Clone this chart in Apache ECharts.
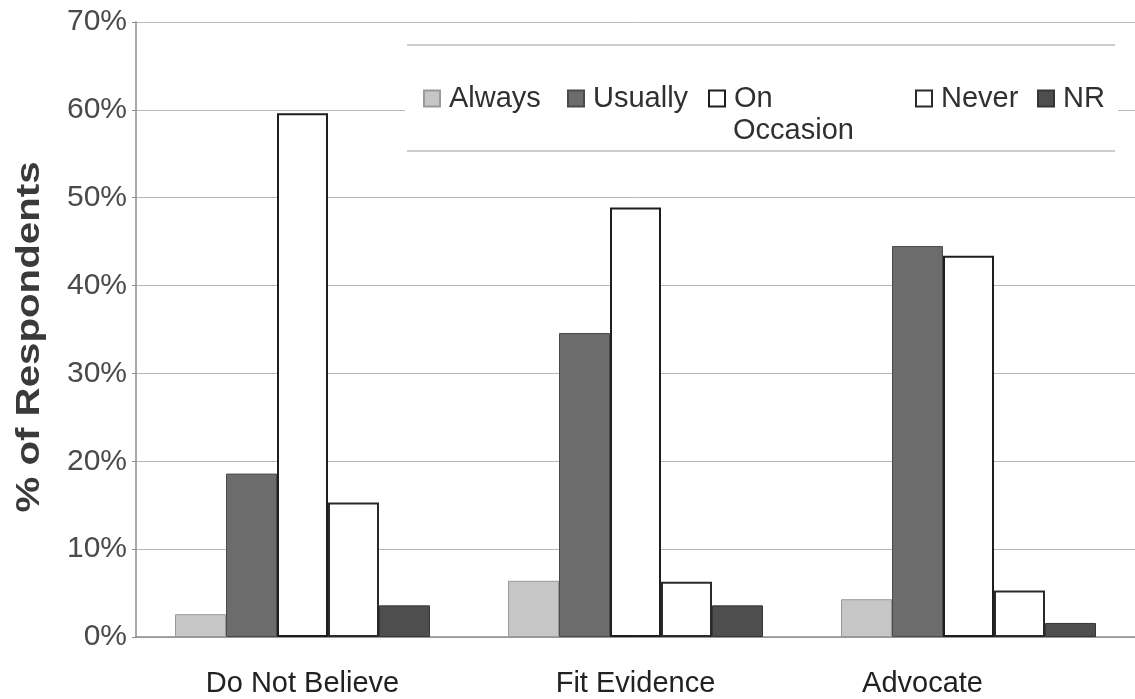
<!DOCTYPE html>
<html>
<head>
<meta charset="utf-8">
<script src="https://cdn.jsdelivr.net/npm/echarts@6/dist/echarts.min.js"></script>
<style>
  html, body { margin: 0; padding: 0; background: #ffffff; }
  #chart { width: 1135px; height: 699px; }
</style>
</head>
<body>
<div id="chart"></div>
<script>
// Survey responses by stance, percent of respondents
const categories = ['Do Not Believe', 'Fit Evidence', 'Advocate'];
const seriesNames = ['Always', 'Usually', 'On Occasion', 'Never', 'NR'];
const always     = [2.6, 6.4, 4.3];
const usually    = [18.6, 34.6, 44.5];
const onOccasion = [59.6, 48.9, 43.4];
const never      = [15.3, 6.3, 5.3];
const noResponse = [3.6, 3.6, 1.6];
const yTicks = [0, 10, 20, 30, 40, 50, 60, 70];
const yTitle = '% of Respondents';

const FONT = '"Liberation Sans", Arial, Helvetica, sans-serif';

const styles = [
  { color: '#c6c6c6', borderColor: '#9a9a9a', borderWidth: 1 },
  { color: '#6c6c6c', borderColor: '#4a4a4a', borderWidth: 1 },
  { color: '#ffffff', borderColor: '#1e1e1e', borderWidth: 2 },
  { color: '#ffffff', borderColor: '#2a2a2a', borderWidth: 2 },
  { color: '#4e4e4e', borderColor: '#363636', borderWidth: 1 }
];
const values = [always, usually, onOccasion, never, noResponse];

const series = seriesNames.map((name, i) => ({
  name: name,
  type: 'bar',
  data: values[i],
  barWidth: 51,
  barGap: '0%',
  itemStyle: styles[i],
  emphasis: { disabled: true }
}));

// one legend block per entry so each sits at its own spot
const legendLefts = [423, 567, 708, 915, 1037];
const legendLabels = ['Always', 'Usually', 'On', 'Never', 'NR'];
const legends = seriesNames.map((name, i) => ({
  data: [name],
  left: legendLefts[i],
  top: 84,
  padding: 0,
  orient: 'horizontal',
  icon: 'rect',
  itemWidth: 16,
  itemHeight: 16,
  selectedMode: false,
  z: 10,
  formatter: () => legendLabels[i],
  textStyle: {
    fontFamily: FONT,
    fontSize: 29,
    color: '#303030',
    padding: [0, 0, 0, 4]
  }
}));

const chart = echarts.init(document.getElementById('chart'), null, { renderer: 'canvas' });
chart.setOption({
  backgroundColor: '#ffffff',
  animation: false,
  grid: { left: 136, right: 0, top: 22, bottom: 62, containLabel: false, outerBoundsMode: 'none' },
  legend: legends,
  xAxis: {
    type: 'category',
    data: [
      categories[0],
      categories[1],
      { value: categories[2], textStyle: { padding: [0, 92, 0, 0] } }
    ],
    axisLine: { lineStyle: { color: '#8c8c8c', width: 1.5 } },
    axisTick: { show: false },
    axisLabel: {
      fontFamily: FONT,
      fontSize: 29,
      color: '#222222',
      margin: 32
    }
  },
  yAxis: {
    type: 'value',
    min: yTicks[0],
    max: yTicks[yTicks.length - 1],
    interval: 10,
    axisLine: { show: true, lineStyle: { color: '#8c8c8c', width: 1.5 } },
    axisTick: { show: true, length: 4, lineStyle: { color: '#8c8c8c' } },
    axisLabel: {
      fontFamily: FONT,
      fontSize: 30,
      color: '#4a4a4a',
      margin: 9,
      formatter: '{value}%'
    },
    splitLine: { show: true, lineStyle: { color: '#b8b8b8', width: 1 } }
  },
  graphic: [
    // legend panel: white fill with rules above and below
    { type: 'rect', left: 405, top: 45, z: 5,
      shape: { width: 713, height: 106 },
      style: { fill: '#ffffff' } },
    { type: 'line', z: 6,
      shape: { x1: 407, y1: 45, x2: 1115, y2: 45 },
      style: { stroke: '#9a9a9a', lineWidth: 1 } },
    { type: 'line', z: 6,
      shape: { x1: 407, y1: 151, x2: 1115, y2: 151 },
      style: { stroke: '#9a9a9a', lineWidth: 1 } },
    // second line of the "On Occasion" legend entry
    { type: 'text', left: 733, top: 116, z: 10,
      style: { text: 'Occasion', font: '29px ' + FONT, fill: '#303030' } },
    // vertical axis title
    { type: 'text', x: 30, y: 337, rotation: Math.PI / 2, scaleX: 1.22, z: 10,
      style: { text: yTitle, font: 'bold 33px ' + FONT, fill: '#3a3a3a',
               align: 'center', verticalAlign: 'middle' } }
  ],
  series: series
});
</script>
</body>
</html>
